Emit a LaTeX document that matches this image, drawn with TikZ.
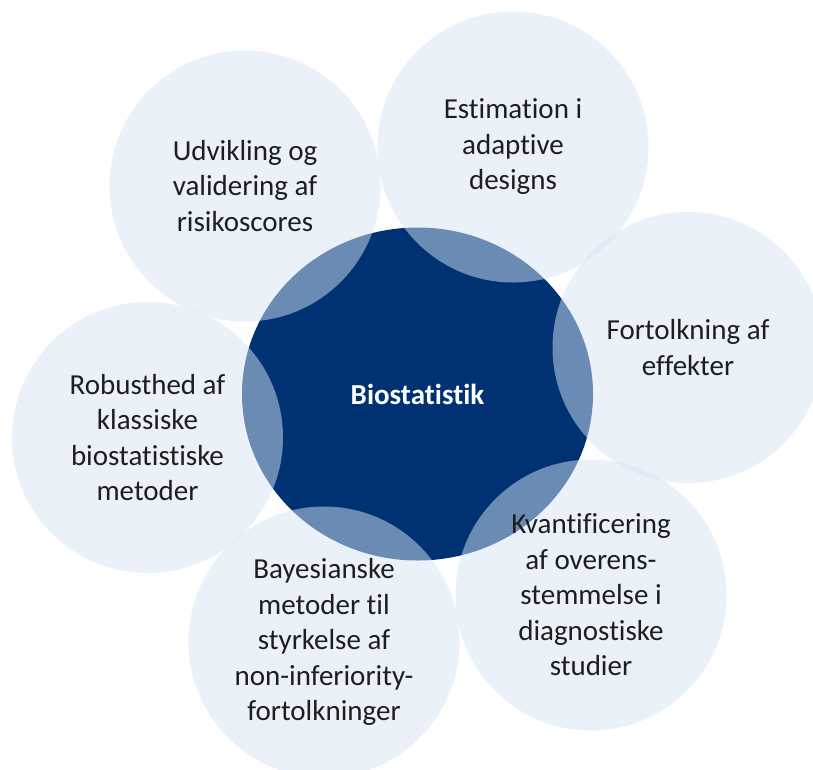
\documentclass[tikz,border=0pt]{standalone}
\usepackage{fontspec}
\setmainfont[Ligatures={NoCommon}]{Carlito}
\usetikzlibrary{shapes.geometric}
\definecolor{navy}{RGB}{0,50,115}
\definecolor{petal}{RGB}{213,228,243}
\definecolor{txt}{RGB}{30,30,30}
\begin{document}
\begin{tikzpicture}[x=1pt,y=-1pt,
  petalnode/.style={circle, minimum size=271pt, inner sep=0pt, fill=petal,
    fill opacity=0.5, text opacity=1, text=txt, align=center,
    font=\fontsize{29}{35.5}\selectfont},
  hubnode/.style={ellipse, minimum width=351pt, minimum height=333pt, inner sep=0pt,
    fill=navy, text=white, font=\fontsize{29}{35.5}\selectfont\bfseries}]
\useasboundingbox (0,0) rectangle (813,769);
\clip (0,0) rectangle (813,769);
\node[hubnode] (hub) at (417.5,394) {Biostatistik};
\node[petalnode] (udv) at (245,186) {Udvikling og\\validering af\\risikoscores};
\node[petalnode] (est) at (513,147) {Estimation i\\adaptive\\designs};
\node[petalnode] (fort) at (688,347.5) {Fortolkning af\\effekter};
\node[petalnode] (kvant) at (591,595) {Kvantificering\\af overens-\\stemmelse i\\diagnostiske\\studier};
\node[petalnode] (bayes) at (324,642) {Bayesianske\\metoder til\\styrkelse af\\non-inferiority-\\fortolkninger};
\node[petalnode] (rob) at (147.5,437.5) {Robusthed af\\klassiske\\biostatistiske\\metoder};
\end{tikzpicture}
\end{document}
